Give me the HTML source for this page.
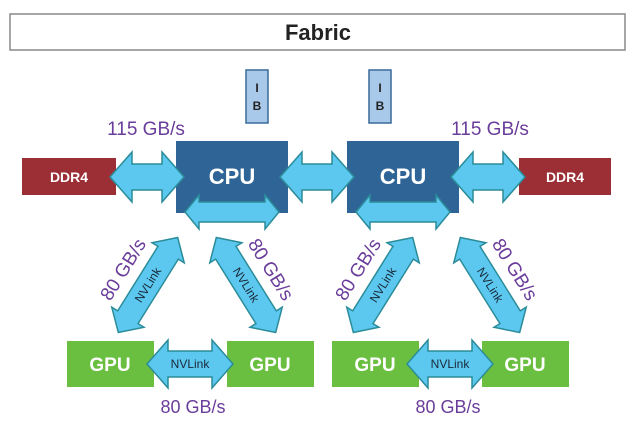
<!DOCTYPE html>
<html><head><style>body{margin:0;background:#fff}svg{display:block}text{font-family:"Liberation Sans",Arial,sans-serif}</style></head>
<body>
<svg width="640" height="423" viewBox="0 0 640 423" xmlns="http://www.w3.org/2000/svg">
<defs>
<polygon id="a1" points="-37,0 -15,-25 -15,-13 15,-13 15,-25 37,0 15,25 15,13 -15,13 -15,25" fill="#5cc8ef" stroke="#2b8c99" stroke-width="1.5"/>
<polygon id="a2" points="-47,0 -33,-17 -33,-10 33,-10 33,-17 47,0 33,17 33,10 -33,10 -33,17" fill="#5cc8ef" stroke="#2b8c99" stroke-width="1.5"/>
<polygon id="a3" points="-56,0 -38,-19 -38,-12 38,-12 38,-19 56,0 38,19 38,12 -38,12 -38,19" fill="#5cc8ef" stroke="#2b8c99" stroke-width="1.5"/>
<polygon id="a4" points="-43,0 -22,-24 -22,-13 22,-13 22,-24 43,0 22,24 22,13 -22,13 -22,24" fill="#5cc8ef" stroke="#2b8c99" stroke-width="1.5"/>
</defs>
<rect x="10" y="14" width="615" height="36" fill="#fff" stroke="#888" stroke-width="1.5"/>
<text x="318" y="40" font-size="22" font-weight="bold" text-anchor="middle" fill="#222">Fabric</text>
<rect x="246" y="70" width="22" height="53" fill="#a9c9eb" stroke="#3a6a9a" stroke-width="1.5"/>
<text x="257" y="92" font-size="12" font-weight="bold" text-anchor="middle" fill="#222">I</text>
<text x="257" y="110" font-size="12" font-weight="bold" text-anchor="middle" fill="#222">B</text>
<rect x="369" y="70" width="22" height="53" fill="#a9c9eb" stroke="#3a6a9a" stroke-width="1.5"/>
<text x="380" y="92" font-size="12" font-weight="bold" text-anchor="middle" fill="#222">I</text>
<text x="380" y="110" font-size="12" font-weight="bold" text-anchor="middle" fill="#222">B</text>
<text x="146" y="135" font-size="19" text-anchor="middle" fill="#6a3d9a">115 GB/s</text>
<text x="490" y="135" font-size="19" text-anchor="middle" fill="#6a3d9a">115 GB/s</text>
<rect x="22" y="158" width="94" height="37" fill="#9b2f35"/>
<text x="69" y="182" font-size="14" font-weight="bold" text-anchor="middle" fill="#fff">DDR4</text>
<rect x="519" y="158" width="92" height="37" fill="#9b2f35"/>
<text x="565" y="182" font-size="14" font-weight="bold" text-anchor="middle" fill="#fff">DDR4</text>
<rect x="176" y="141" width="112" height="72" fill="#2f6596"/>
<text x="232" y="184" font-size="22" font-weight="bold" text-anchor="middle" fill="#fff">CPU</text>
<rect x="347" y="141" width="112" height="72" fill="#2f6596"/>
<text x="403" y="184" font-size="22" font-weight="bold" text-anchor="middle" fill="#fff">CPU</text>
<use href="#a1" transform="translate(147,177)"/>
<use href="#a1" transform="translate(317,177)"/>
<use href="#a1" transform="translate(488,177)"/>
<use href="#a2" transform="translate(232,212)"/>
<use href="#a2" transform="translate(403,212)"/>
<g transform="translate(148,285) rotate(-58)"><use href="#a3"/><text y="4" font-size="12" text-anchor="middle" fill="#1a2a3a">NVLink</text><text y="-23" font-size="19" text-anchor="middle" fill="#6a3d9a">80 GB/s</text></g>
<g transform="translate(246,285) rotate(58)"><use href="#a3"/><text y="4" font-size="12" text-anchor="middle" fill="#1a2a3a">NVLink</text><text y="-23" font-size="19" text-anchor="middle" fill="#6a3d9a">80 GB/s</text></g>
<g transform="translate(383,285) rotate(-58)"><use href="#a3"/><text y="4" font-size="12" text-anchor="middle" fill="#1a2a3a">NVLink</text><text y="-23" font-size="19" text-anchor="middle" fill="#6a3d9a">80 GB/s</text></g>
<g transform="translate(490,285) rotate(58)"><use href="#a3"/><text y="4" font-size="12" text-anchor="middle" fill="#1a2a3a">NVLink</text><text y="-23" font-size="19" text-anchor="middle" fill="#6a3d9a">80 GB/s</text></g>
<rect x="67" y="341" width="87" height="46" fill="#6abf40"/>
<text x="110" y="371" font-size="19" font-weight="bold" text-anchor="middle" fill="#fff">GPU</text>
<rect x="227" y="341" width="87" height="46" fill="#6abf40"/>
<text x="270" y="371" font-size="19" font-weight="bold" text-anchor="middle" fill="#fff">GPU</text>
<rect x="332" y="341" width="87" height="46" fill="#6abf40"/>
<text x="375" y="371" font-size="19" font-weight="bold" text-anchor="middle" fill="#fff">GPU</text>
<rect x="482" y="341" width="87" height="46" fill="#6abf40"/>
<text x="525" y="371" font-size="19" font-weight="bold" text-anchor="middle" fill="#fff">GPU</text>
<g transform="translate(190,364)"><use href="#a4"/><text y="4" font-size="12" text-anchor="middle" fill="#1a2a3a">NVLink</text></g>
<g transform="translate(450,364)"><use href="#a4"/><text y="4" font-size="12" text-anchor="middle" fill="#1a2a3a">NVLink</text></g>
<text x="193" y="413" font-size="18" text-anchor="middle" fill="#6a3d9a">80 GB/s</text>
<text x="448" y="413" font-size="18" text-anchor="middle" fill="#6a3d9a">80 GB/s</text>
</svg>
</body></html>
